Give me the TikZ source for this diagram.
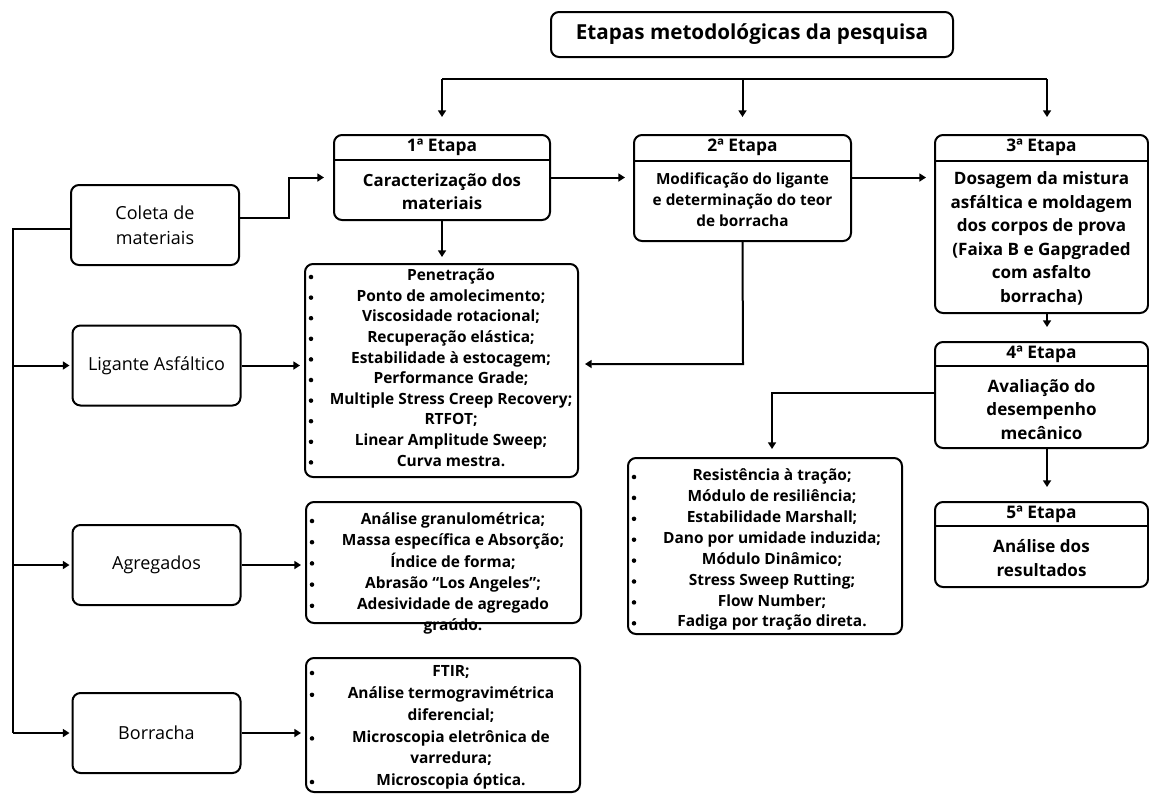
\documentclass[tikz,border=0pt]{standalone}
\usepackage{fontspec}
\setmainfont{Open Sans}
\usetikzlibrary{arrows.meta}
\tikzset{
  caixa/.style={draw, line width=1.5pt, rounded corners=6pt, inner sep=0pt},
  linha/.style={line width=1.5pt},
  seta/.style={line width=1.5pt, -{Triangle[width=6pt,length=5pt]}, shorten >=4.5pt},
  titulo/.style={font=\bfseries\fontsize{15.5}{18}\selectfont},
  cab/.style={font=\bfseries\fontsize{13}{15}\selectfont},
  corpo/.style={font=\bfseries\fontsize{11.5}{15.75}\selectfont, align=center},
  corpog/.style={font=\bfseries\fontsize{12.8}{17.6}\selectfont, align=center},
  fonte/.style={font=\fontsize{13.5}{18.75}\selectfont, align=center},
  item/.style={font=\bfseries\fontsize{11.6}{15}\selectfont, text height=8pt, text depth=2.5pt, inner sep=0pt}
}
\begin{document}
\begin{tikzpicture}[x=0.75pt,y=-0.75pt]
  \useasboundingbox (0,0) rectangle (1149,793);
  % titulo e etapas
  \node[caixa, minimum width=301.5pt, minimum height=33.75pt, titulo] (tit) at (752,34.5) {Etapas metodológicas da pesquisa};
  \node[caixa, minimum width=162pt, minimum height=63.75pt] (e1) at (442,177.5) {};
  \node[caixa, minimum width=162.75pt, minimum height=79.5pt] (e2) at (742.5,188) {};
  \node[caixa, minimum width=159.75pt, minimum height=133.5pt] (e3) at (1041.5,224) {};
  \node[caixa, minimum width=159.75pt, minimum height=79.5pt] (e4) at (1041.5,395) {};
  \node[caixa, minimum width=159.75pt, minimum height=63.75pt] (e5) at (1041.5,544.5) {};
  \foreach \n/\y in {e1/160,e2/161,e3/161,e4/366,e5/526}
    \draw[linha] (\n.west |- 0,\y) -- (\n.east |- 0,\y);
  \foreach \n/\y/\t in {e1/147.5/1ª Etapa,e2/147.5/2ª Etapa,e3/147.5/3ª Etapa,e4/354/4ª Etapa,e5/514/5ª Etapa}
    \node[cab] (\n t) at (\n |- 0,\y) {\t};
  \node[corpog, font=\bfseries\fontsize{12.6}{17.25}\selectfont] (e1c) at (442,191.5) {Caracterização dos\\materiais};
  \node[corpo] (e2c) at (742.5,200) {Modificação do ligante\\e determinação do teor\\de borracha};
  \node[corpog] (e3c) at (1041.5,238.5) {Dosagem da mistura\\asfáltica e moldagem\\dos corpos de prova\\(Faixa B e Gapgraded\\com asfalto\\borracha)};
  \node[corpog] (e4c) at (1041.5,409.5) {Avaliação do\\desempenho\\mecânico};
  \node[corpog] (e5c) at (1041.5,558) {Análise dos\\resultados};
  % materiais
  \node[caixa, minimum width=126pt, minimum height=60pt, fonte] (coleta) at (155,225) {Coleta de\\materiais};
  \node[caixa, minimum width=126pt, minimum height=60pt, fonte] (ligante) at (156.5,365.5) {Ligante Asfáltico};
  \node[caixa, minimum width=126pt, minimum height=60pt, fonte] (agregados) at (156.5,565) {Agregados};
  \node[caixa, minimum width=126pt, minimum height=60pt, fonte] (borracha) at (156.5,733) {Borracha};
  % listas de ensaios
  \node[caixa, minimum width=204.75pt, minimum height=159.75pt] (lista1) at (441.5,370.5) {};
  \node[caixa, minimum width=206.25pt, minimum height=90.75pt] (lista2) at (443.5,562.5) {};
  \node[caixa, minimum width=205.5pt, minimum height=100.5pt] (lista3) at (443,725) {};
  \node[caixa, minimum width=205.5pt, minimum height=132pt] (lista4) at (765,546) {};
  \foreach \i/\t in {0/Penetração,1/Ponto de amolecimento;,2/Viscosidade rotacional;,3/Recuperação elástica;,4/Estabilidade à estocagem;,5/Performance Grade;,6/Multiple Stress Creep Recovery;,7/RTFOT;,8/Linear Amplitude Sweep;,9/Curva mestra.}
    \node[item] (lig\i) at (451,277+20.6*\i) {\t};
  \foreach \i/\t in {0/Análise granulométrica;,1/Massa específica e Absorção;,2/Índice de forma;,3/Abrasão “Los Angeles”;,4/Adesividade de agregado,5/graúdo.}
    \node[item] (agr\i) at (453,521+21.2*\i) {\t};
  \foreach \i/\t in {0/FTIR;,1/Análise termogravimétrica,2/diferencial;,3/Microscopia eletrônica de,4/varredura;,5/Microscopia óptica.}
    \node[item] (bor\i) at (451,673+21.8*\i) {\t};
  \foreach \i/\t in {0/Resistência à tração;,1/Módulo de resiliência;,2/Estabilidade Marshall;,3/Dano por umidade induzida;,4/Módulo Dinâmico;,5/Stress Sweep Rutting;,6/Flow Number;,7/Fadiga por tração direta.}
    \node[item] (des\i) at (772,477+20.9*\i) {\t};
  \foreach \i in {0,...,9} \fill (311,277+20.6*\i) circle (1.7pt);
  \foreach \i in {0,...,4} \fill (312,521+21.2*\i) circle (1.7pt);
  \foreach \i in {0,1,3,5} \fill (312,673+21.8*\i) circle (1.7pt);
  \foreach \i in {0,...,7} \fill (634,477+20.9*\i) circle (1.7pt);
  % conectores
  \coordinate (ramo) at (743,79);
  \coordinate (d3) at (1047,79);
  \draw[linha] (e1.north |- ramo) -- (d3);
  \foreach \n in {e1,e2}
    \draw[seta, shorten >=12.75pt] (\n.north |- ramo) -- (\n.north);
  \draw[seta, shorten >=12.75pt] (d3) -- (d3 |- e3.north);
  \draw[seta, shorten >=10.5pt] (d3 |- e3.south) -- (d3 |- e4.north);
  \draw[seta, shorten >=10.5pt] (d3 |- e4.south) -- (d3 |- e5.north);
  \coordinate (dobra) at (289,218);
  \draw[seta, shorten >=6.75pt] (coleta.east |- dobra) -- (dobra) |- (e1.west);
  \draw[seta, shorten >=6pt] (e1.east) -- (e2.west |- e1.east);
  \draw[seta, shorten >=6pt] (e2.east |- e1.east) -- (e3.west |- e1.east);
  \draw[seta] (e1.south) -- (e1.south |- lista1.north);
  \coordinate (volta) at (743,364);
  \draw[seta] (e2.south) -- (volta) -- (lista1.east |- volta);
  \coordinate (desvio) at (772,393);
  \draw[seta, shorten >=6pt] (e4.west |- desvio) -- (desvio) -- (desvio |- lista4.north);
  \coordinate (tronco) at (13,229);
  \draw[linha] (coleta.west |- tronco) -- (tronco) -- (tronco |- borracha.west);
  \foreach \n in {ligante,agregados,borracha}
    \draw[seta, shorten >=1.5pt] (tronco |- \n.west) -- (\n.west);
  \draw[seta, shorten >=3pt] (ligante.east) -- (ligante.east -| lista1.west);
  \draw[seta, shorten >=3pt] (agregados.east) -- (agregados.east -| lista2.west);
  \draw[seta, shorten >=3pt] (borracha.east) -- (borracha.east -| lista3.west);
\end{tikzpicture}
\end{document}
